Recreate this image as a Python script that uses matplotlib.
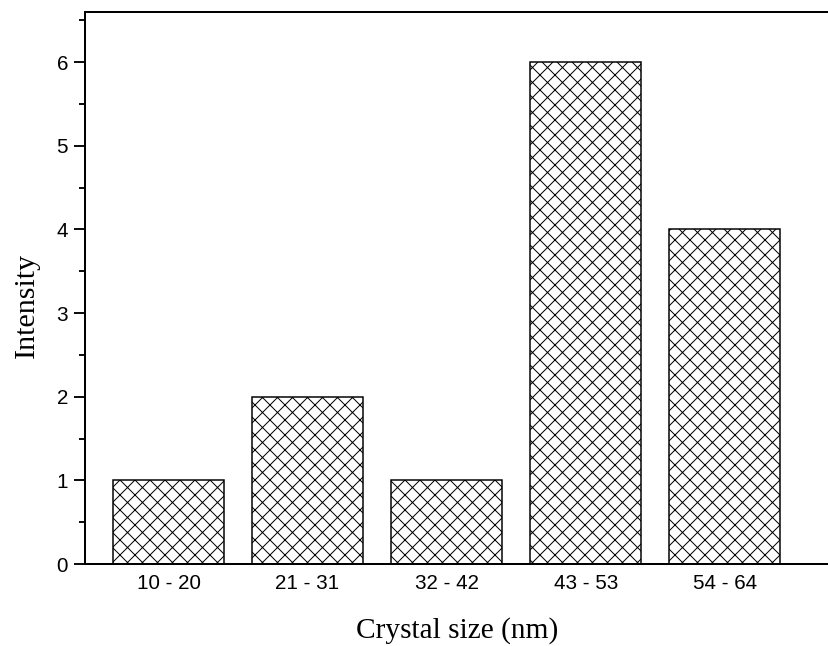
import matplotlib
matplotlib.use("Agg")
import matplotlib.pyplot as plt
from matplotlib.ticker import MultipleLocator

categories = ["10 - 20", "21 - 31", "32 - 42", "43 - 53", "54 - 64"]
intensity = [1, 2, 1, 6, 4]

DPI = 90
plt.rcParams['hatch.linewidth'] = 0.8
fig = plt.figure(figsize=(829 / DPI, 646 / DPI), dpi=DPI)
ax = fig.add_axes([85 / 829, 1 - 564 / 646, 1 - 85 / 829, (564 - 12) / 646])

pos = list(range(1, len(categories) + 1))
ax.bar(pos, intensity, width=0.8, color="white", edgecolor="black",
       linewidth=1.2, hatch="xx", zorder=2)

ax.set_xlim(0.4, 5.75)
ax.set_ylim(0, 6.6)
ax.set_xticks(pos)
ax.set_xticklabels(categories, fontfamily="Liberation Sans", fontsize=16.5)
ax.tick_params(axis="x", length=0, pad=8)
ax.yaxis.set_major_locator(MultipleLocator(1))
ax.yaxis.set_minor_locator(MultipleLocator(0.5))
ax.tick_params(axis="y", which="major", length=8.5, width=1.5, direction="out",
               labelsize=16.5, pad=5)
ax.tick_params(axis="y", which="minor", length=4.5, width=1.5, direction="out")
for lab in ax.get_yticklabels():
    lab.set_fontfamily("Liberation Sans")

ax.spines["right"].set_visible(False)
for s in ["left", "bottom", "top"]:
    ax.spines[s].set_linewidth(1.6)

ax.set_xlabel("Crystal size (nm)", fontfamily="Liberation Serif", fontsize=23.5)
ax.set_ylabel("Intensity", fontfamily="Liberation Serif", fontsize=24)
ax.xaxis.set_label_coords(0.5, -0.097)
ax.yaxis.set_label_coords(-0.06, 0.469)

fig.savefig("out.png", dpi=DPI)
